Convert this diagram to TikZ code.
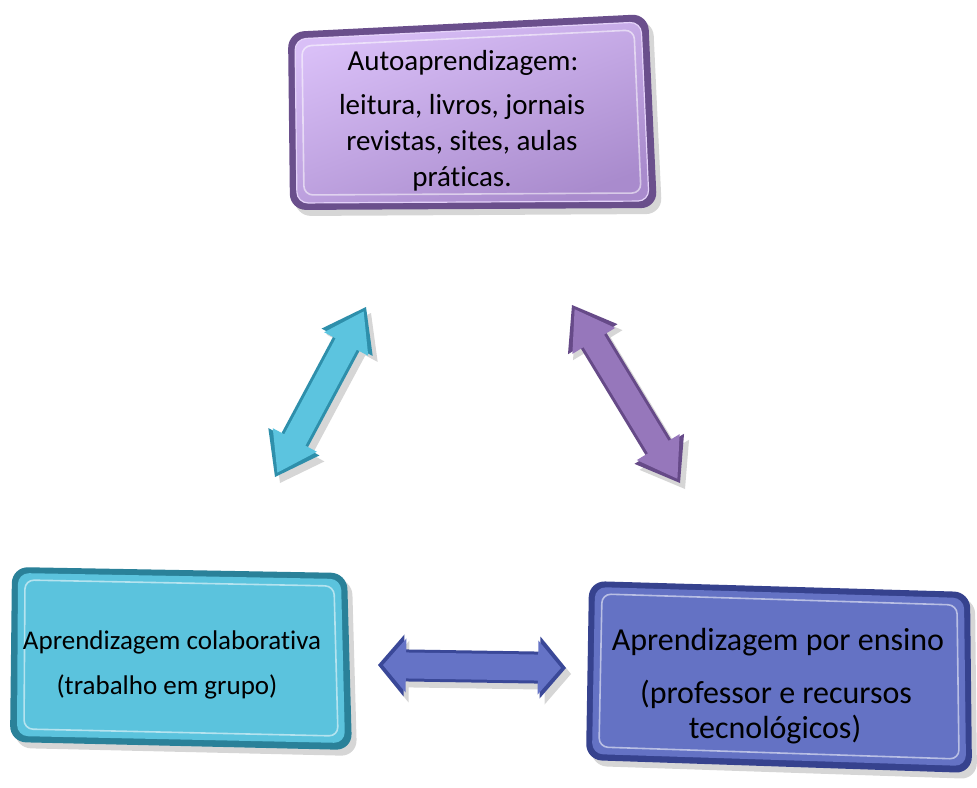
\documentclass[tikz,border=0pt]{standalone}
\usepackage{fontspec}
\setmainfont{Carlito}[Ligatures=NoCommon]
\usetikzlibrary{calc}
\definecolor{topLight}{HTML}{D9BFF7}
\definecolor{topMid}{HTML}{A98BCD}
\definecolor{topDark}{HTML}{6A4F8C}
\definecolor{cyanFill}{HTML}{5BC3DD}
\definecolor{cyanDark}{HTML}{2A8199}
\definecolor{blueFill}{HTML}{6472C4}
\definecolor{blueDark}{HTML}{36428E}
\definecolor{arrCyan}{HTML}{5CC4DF}
\definecolor{arrCyanDark}{HTML}{2E8FAB}
\definecolor{arrPurple}{HTML}{9677BB}
\definecolor{arrPurpleDark}{HTML}{664A88}
\definecolor{arrBlue}{HTML}{6573C6}
\definecolor{arrBlueDark}{HTML}{3A4898}
\newcommand{\blockarrow}[6]{%
  \coordinate (ha) at ($(#1)!#3!(#2)$);
  \coordinate (hb) at ($(#2)!#3!(#1)$);
  \path[#6] (#1) -- ($(ha)!#4!90:(#2)$) -- ($(ha)!#5!90:(#2)$)
    -- ($(hb)!#5!-90:(#1)$) -- ($(hb)!#4!-90:(#1)$) -- (#2)
    -- ($(hb)!#4!90:(#1)$) -- ($(hb)!#5!90:(#1)$)
    -- ($(ha)!#5!-90:(#2)$) -- ($(ha)!#4!-90:(#2)$) -- cycle;}
\tikzset{
  boxshape/.style={rounded corners=16pt, line join=round},
  innershape/.style={rounded corners=11pt, line join=round},
  hilite/.style={draw=white, draw opacity=0.55, line width=1.6pt, rounded corners=9pt},
  softshadow/.style={fill=black, fill opacity=0.16, transform canvas={shift={(5pt,-6pt)}}},
  txtbig/.style={font=\fontsize{32}{38}\selectfont, anchor=base, inner sep=0pt},
  txtmid/.style={font=\fontsize{29}{35}\selectfont, anchor=base, inner sep=0pt},
  txtsmall/.style={font=\fontsize{27}{32}\selectfont, anchor=base, inner sep=0pt}
}
\begin{document}
\begin{tikzpicture}[x=1pt,y=-1pt]
\useasboundingbox (0,0) rectangle (977,787);
\fill[white] (0,0) rectangle (977,787);

% ---------- top box ----------
\path[boxshape, softshadow] (288,32) -- (648,14) -- (657,208) -- (290,210) -- cycle;
\path[boxshape, fill=topDark] (288,32) -- (648,14) -- (657,208) -- (290,210) -- cycle;
\shade[innershape, top color=topLight, bottom color=topMid, shading angle=20]
  (295,39) -- (641,22) -- (649,201) -- (297,203) -- cycle;
\draw[innershape, draw=topLight!70!white, line width=1.2pt]
  (295,39) -- (641,22) -- (649,201) -- (297,203) -- cycle;
\draw[hilite] (302,46) -- (634,30) -- (641,193) -- (304,195) -- cycle;
\node[txtmid] (t1) at (463,70) {Autoaprendizagem:};
\node[txtmid] (t2) at (462,114) {leitura, livros, jornais};
\node[txtmid] (t3) at (462,150) {revistas, sites, aulas};
\node[txtmid] (t4) at (462,186) {práticas.};

% ---------- left box ----------
\path[boxshape, softshadow] (12,567) -- (347,573) -- (352,750) -- (10,742) -- cycle;
\path[boxshape, fill=cyanDark] (12,567) -- (347,573) -- (352,750) -- (10,742) -- cycle;
\path[innershape, fill=cyanFill] (18,573) -- (341,579) -- (345,743) -- (17,736) -- cycle;
\draw[hilite] (25,580) -- (334,586) -- (338,736) -- (24,729) -- cycle;
\node[txtsmall] (l1) at (172,649) {Aprendizagem colaborativa};
\node[txtsmall] (l2) at (167,694) {(trabalho em grupo)};

% ---------- right box ----------
\path[boxshape, softshadow] (589,581) -- (970,592) -- (972,773) -- (586,760) -- cycle;
\path[boxshape, fill=blueDark] (589,581) -- (970,592) -- (972,773) -- (586,760) -- cycle;
\path[innershape, fill=blueFill] (595,587) -- (964,598) -- (966,766) -- (592,754) -- cycle;
\draw[hilite] (602,594) -- (957,605) -- (959,759) -- (599,747) -- cycle;
\node[txtbig] (r1) at (778,650) {Aprendizagem por ensino};
\node[txtbig] (r2) at (776,703) {(professor e recursos};
\node[txtbig] (r3) at (775,738) {tecnológicos)};

% ---------- arrows ----------
% cyan (left diagonal)
\coordinate (ca) at (275,477);
\coordinate (cb) at (366,307);
\coordinate (ca2) at ($(ca)!5pt!(cb)$);
\coordinate (cb2) at ($(cb)!5pt!(ca)$);
\blockarrow{ca}{cb}{40pt}{29pt}{15pt}{softshadow}
\blockarrow{ca}{cb}{40pt}{29pt}{15pt}{fill=arrCyanDark}
\blockarrow{ca2}{cb2}{37pt}{25pt}{12pt}{fill=arrCyan}

% purple (right diagonal)
\coordinate (pa) at (572,305);
\coordinate (pb) at (680,483);
\coordinate (pa2) at ($(pa)!5pt!(pb)$);
\coordinate (pb2) at ($(pb)!5pt!(pa)$);
\blockarrow{pa}{pb}{40pt}{29pt}{15pt}{softshadow}
\blockarrow{pa}{pb}{40pt}{29pt}{15pt}{fill=arrPurpleDark}
\blockarrow{pa2}{pb2}{37pt}{25pt}{12pt}{fill=arrPurple}

% blue (horizontal)
\coordinate (ba) at (378,665);
\coordinate (bb) at (566,668);
\coordinate (ba2) at ($(ba)!5pt!(bb)$);
\coordinate (bb2) at ($(bb)!5pt!(ba)$);
\blockarrow{ba}{bb}{26pt}{31pt}{16pt}{softshadow}
\blockarrow{ba}{bb}{26pt}{31pt}{16pt}{fill=arrBlueDark}
\blockarrow{ba2}{bb2}{23pt}{27pt}{13pt}{fill=arrBlue}
\end{tikzpicture}
\end{document}
